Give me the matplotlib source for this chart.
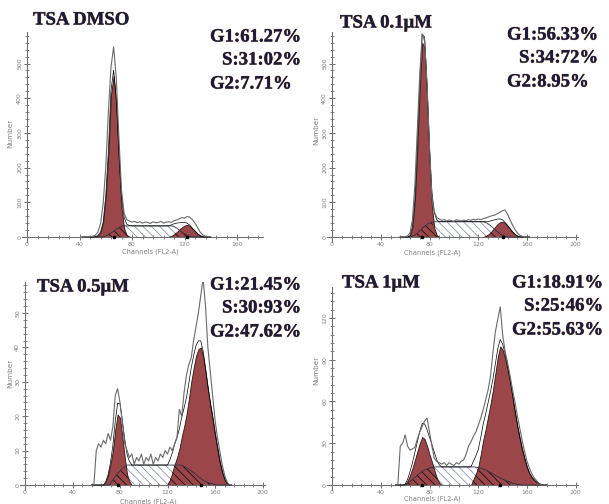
import numpy as np
import matplotlib
matplotlib.use('Agg')
import matplotlib.pyplot as plt
from matplotlib.ticker import MultipleLocator
import matplotlib.patheffects as pe

# ---- DNA content histograms (counts per channel) and fitted components ----
# TSA DMSO
dmso_ch = np.arange(42, 141, 2)
dmso_counts = [0, 0, 0, 1, 2, 5, 14, 38, 95, 200,
               360, 490, 548, 460, 290, 135, 68, 50, 46, 43,
               45, 41, 44, 40, 43, 42, 39, 44, 41, 42,
               45, 40, 43, 44, 42, 47, 49, 52, 56, 54,
               59, 57, 50, 40, 27, 14, 6, 2, 1, 0]
dmso_g1 = [0] * 5 + [1, 4, 14, 42, 115, 240, 410, 464, 380, 220, 85, 25, 5, 1, 0] + [0] * 30
dmso_s = [0] * 8 + [0, 3, 7, 12, 17, 22, 27, 31, 32] + [32] * 18 + [30, 26, 20, 14, 9, 5, 2] + [0] * 8
dmso_g2 = [0] * 33 + [0, 3, 8, 14, 21, 28, 33, 35, 32, 25, 17, 9, 4, 1, 0, 0, 0]

# TSA 0.1uM
p01_ch = np.arange(56, 163, 2)
p01_counts = [0, 0, 1, 3, 12, 50, 150, 310, 470, 585,
              565, 440, 260, 115, 72, 56, 52, 48, 50, 46,
              49, 47, 45, 50, 48, 46, 49, 47, 50, 48,
              51, 49, 52, 50, 53, 55, 57, 60, 62, 64,
              68, 72, 76, 78, 66, 50, 35, 22, 12, 5,
              2, 0, 0, 0]
p01_g1 = [0] * 4 + [4, 28, 105, 255, 425, 560, 545, 400, 215, 85, 25, 5, 0] + [0] * 37
p01_s = [0] * 4 + [0, 2, 6, 11, 18, 25, 31, 36, 40, 43, 44] + [44] * 20 + \
        [42, 38, 33, 27, 20, 14, 9, 5, 2, 0] + [0] * 9
p01_g2 = [0] * 34 + [0, 3, 7, 13, 21, 30, 38, 43, 44, 40, 33, 24, 15, 8, 3, 1, 0, 0, 0, 0]

# TSA 0.5uM
p05_ch = np.arange(56, 175, 2)
p05_counts = [0, 0, 10, 12, 11, 13, 12, 15, 13, 17,
              26, 28, 24, 18, 12, 10, 8, 9, 6, 8,
              7, 9, 6, 8, 7, 9, 6, 8, 7, 9,
              8, 10, 9, 11, 10, 12, 14, 22, 20, 27,
              32, 35, 37, 42, 46, 50, 55, 60, 52, 40,
              33, 26, 19, 14, 10, 6, 3, 1, 0, 0]
p05_g1 = [0] * 5 + [0, 1, 3, 6, 10, 16, 20.5, 19.5, 14, 8, 3, 1, 0] + [0] * 42
p05_s = [0] * 7 + [0, 0.5, 1.5, 2.5, 3.3, 4.1, 4.8, 5.4, 5.8] + [5.8] * 22 + \
        [5.7, 5.4, 5.0, 4.6, 4.1, 3.6, 3.0, 2.4, 1.9, 1.4, 1.0, 0.7, 0.5, 0.3, 0.1, 0] + [0] * 6
p05_g2 = [0] * 32 + [0, 1.5, 3.5, 6, 8, 10.5, 14, 17, 20.5, 25, 30, 34, 37.5, 39.5, 40,
                     37.5, 33, 28, 23.5, 19.5, 15, 11, 7, 4, 1.8, 0.5, 0, 0]

# TSA 1uM
p1_ch = np.arange(52, 177, 2)
p1_counts = [0, 0, 28, 30, 36, 28, 25, 26, 27, 33,
             38, 42, 46, 48, 38, 28, 19, 17, 16, 15,
             16, 14, 16, 15, 14, 16, 15, 17, 18, 22,
             28, 31, 35, 38, 43, 48, 54, 61, 68, 78,
             95, 110, 119, 128, 108, 96, 88, 79, 69, 60,
             50, 41, 32, 24, 17, 12, 8, 5, 3, 1,
             0, 0, 0]
p1_g1 = [0] * 4 + [0.5, 3, 7, 12, 18, 24, 30, 34.5, 33, 28, 22, 16.5, 10.5, 5, 1.5, 0] + [0] * 43
p1_s = [0] * 4 + [0, 1, 2.5, 4, 5.5, 7, 8.5, 9.8, 10.8, 11.6, 12.2, 12.6, 12.9] + [13] * 16 + \
       [12.8, 12.5, 12, 11.5, 10.8, 10, 9, 8, 7, 6, 5, 4.2, 3.4, 2.7, 2, 1.4, 0.9, 0.5, 0.2, 0] + [0] * 10
p1_g2 = [0] * 31 + [0, 4, 8, 13, 22, 32, 40, 49, 58, 68, 80, 92, 99.5, 97, 91, 83, 74, 64,
                    53, 43, 34, 26, 19, 13, 8.5, 5.5, 3.5, 2, 1, 0.4, 0, 0]

titles = ['TSA DMSO', 'TSA 0.1\u03bcM', 'TSA 0.5\u03bcM', 'TSA 1\u03bcM']
g1_pct = ['61.27', '56.33', '21.45', '18.91']
s_pct = ['31:02', '34:72', '30:93', '25:46']
g2_pct = ['7.71', '8.95', '47.62', '55.63']

W, H = 609, 504
fig = plt.figure(figsize=(W / 100, H / 100), dpi=100)


def px_axes(x0, sx, y0, sy, xlim, ylim):
    # axes rectangle from pixel origin and pixel-per-unit scales
    left = x0 + xlim[0] * sx
    right = x0 + xlim[1] * sx
    top = y0 - ylim[1] * sy
    bottom = y0 - ylim[0] * sy
    ax = fig.add_axes([left / W, (H - bottom) / H, (right - left) / W, (bottom - top) / H])
    ax.set_xlim(*xlim)
    ax.set_ylim(*ylim)
    return ax


def ftext(x, y, s, **kw):
    fig.text(x / W, 1 - y / H, s, **kw)


RED = '#9b4649'
HATCH_LIGHT = '#8e95b5'
plt.rcParams['hatch.linewidth'] = 0.6
label_fx = [pe.withStroke(linewidth=0.7, foreground='#d2b497'), pe.Normal()]

panels = [
    dict(ch=dmso_ch, counts=dmso_counts, g1=dmso_g1, s=dmso_s, g2=dmso_g2,
         frame=(27, 1.3125, 237, 0.347, (-4, 180), (-15, 590)), ymaj=100, ymin=20,
         title=(33, 20), ann=(210, 37), xlab=(150, 252), ylab=(10, 133)),
    dict(ch=p01_ch, counts=p01_counts, g1=p01_g1, s=p01_s, g2=p01_g2,
         frame=(332, 1.219, 237, 0.347, (-4, 202), (-15, 590)), ymaj=100, ymin=20,
         title=(340, 23), ann=(507, 35), xlab=(432, 253), ylab=(316, 130)),
    dict(ch=p05_ch, counts=p05_counts, g1=p05_g1, s=p05_s, g2=p05_g2,
         frame=(25, 1.1875, 485, 3.44, (-4, 202), (-1.5, 59)), ymaj=10, ymin=2,
         title=(37, 287), ann=(210, 285), xlab=(148, 502), ylab=(10, 373)),
    dict(ch=p1_ch, counts=p1_counts, g1=p1_g1, s=p1_s, g2=p1_g2,
         frame=(332, 1.219, 485, 1.392, (-4, 202), (-3.5, 142)), ymaj=30, ymin=6,
         title=(342, 283), ann=(512, 283), xlab=(432, 499), ylab=(316, 370)),
]

for i, p in enumerate(panels):
    ax = px_axes(*p['frame'])
    ch = p['ch']
    counts = np.array(p['counts'], dtype=float)
    g1 = np.array(p['g1'], dtype=float)
    g2 = np.array(p['g2'], dtype=float)
    s = np.array(p['s'], dtype=float)

    # S phase: light hatch
    ax.fill_between(ch, 0, s, facecolor='white', edgecolor=HATCH_LIGHT,
                    hatch='\\\\\\\\', linewidth=0, zorder=1)
    # G1 / G2 peaks
    ax.fill_between(ch, 0, g1, facecolor=RED, edgecolor='#2a1515', linewidth=0.6, zorder=2)
    ax.fill_between(ch, 0, g2, facecolor=RED, edgecolor='#2a1515', linewidth=0.6, zorder=2)
    # S phase under the peaks: dark hatch
    ax.fill_between(ch, 0, np.minimum(s, g1), facecolor='none', edgecolor='#1a1010',
                    hatch='\\\\\\\\', linewidth=0, zorder=3)
    ax.fill_between(ch, 0, np.minimum(s, g2), facecolor='none', edgecolor='#1a1010',
                    hatch='\\\\\\\\', linewidth=0, zorder=3)
    ax.plot(ch, s, color='#303040', lw=0.6, zorder=3)
    # fitted model and raw histogram
    ax.plot(ch, g1 + g2 + s, color='black', lw=0.5, zorder=4)
    ax.plot(ch, counts, color='#6a6a6a', lw=0.8, zorder=5)
    # peak position markers
    for g in (g1, g2):
        ax.plot(ch[np.argmax(g)], 0, marker='s', ms=2, color='black', zorder=6, clip_on=False)

    for side in ('top', 'right'):
        ax.spines[side].set_visible(False)
    for side in ('left', 'bottom'):
        ax.spines[side].set_position(('data', 0))
        ax.spines[side].set_color('#707070')
        ax.spines[side].set_linewidth(0.8)
    ax.patch.set_alpha(0)

    xmax = 160 if i == 0 else 200
    ax.set_xticks(np.arange(0, xmax + 1, 40))
    ax.xaxis.set_minor_locator(MultipleLocator(8))
    ylim = p['frame'][5]
    ax.set_yticks(np.arange(0, ylim[1], p['ymaj']))
    ax.yaxis.set_minor_locator(MultipleLocator(p['ymin']))
    ax.tick_params(which='major', direction='inout', length=4, width=0.7, color='#707070',
                   labelsize=4.5, labelcolor='#808080', pad=1.5)
    ax.tick_params(which='minor', direction='inout', length=2.5, width=0.6, color='#707070')
    ax.tick_params(axis='y', labelrotation=90)
    for lbl in ax.get_yticklabels():
        lbl.set_va('center')

    tx, ty = p['title']
    ftext(tx, ty, titles[i], fontsize=13.5, fontweight='bold', family='Liberation Serif',
          color='#1c1c38', va='center', ha='left', path_effects=label_fx)
    ax_, ay = p['ann']
    for k, txt in enumerate([f'G1:{g1_pct[i]}%', f'S:{s_pct[i]}%', f'G2:{g2_pct[i]}%']):
        dx = 12 if k == 1 else 0
        dy = [0, 23, 47][k]
        ftext(ax_ + dx, ay + dy, txt, fontsize=13.5, fontweight='bold', family='Liberation Serif',
              color='#1c1c38', va='center', ha='left', path_effects=label_fx)

    lx, ly = p['xlab']
    ftext(lx, ly, 'Channels (FL2-A)', fontsize=4.8, color='#808080', ha='center', va='center')
    yx, yy = p['ylab']
    ftext(yx, yy, 'Number', fontsize=5.2, color='#808080', ha='center', va='center', rotation=90)

fig.savefig('out.png', dpi=100)
